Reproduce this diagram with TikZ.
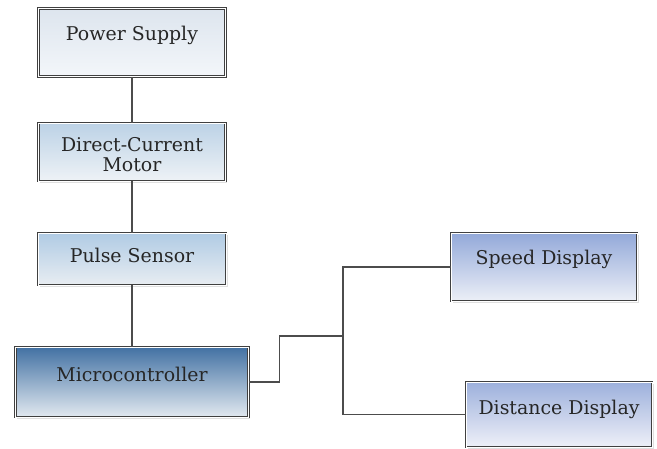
\documentclass[tikz,border=0pt]{standalone}
\usepackage{fontspec}
\setmainfont{DejaVu Serif}
\usetikzlibrary{shadows}
\tikzset{unit/.style={draw=black!75, line width=0.55pt, double=white, double distance=0.7pt,
	drop shadow={opacity=0.25, shadow xshift=1.2pt, shadow yshift=-1.2pt},
	minimum width=#1, inner sep=0pt},
	label/.style={text=black!85, font=\fontsize{14.2}{15.2}\selectfont, align=center, inner sep=0pt},
	wire/.style={draw=black!70, line width=0.9pt}}
\begin{document}
\begin{tikzpicture}[x=0.75pt,y=-0.75pt]
	\useasboundingbox (0,0) rectangle (657,449);
\node[unit=140.25pt, minimum height=51pt, top color={rgb,255:red,221;green,229;blue,238}, bottom color={rgb,255:red,243;green,246;blue,250}] (supply) at (132,42.5) {};
\node[unit=140.25pt, minimum height=43.5pt, top color={rgb,255:red,188;green,210;blue,230}, bottom color={rgb,255:red,238;green,242;blue,246}] (motor) at (132,152) {};
\node[unit=141pt, minimum height=39pt, top color={rgb,255:red,176;green,203;blue,228}, bottom color={rgb,255:red,232;green,237;blue,242}] (sensor) at (132,259) {};
\node[unit=174.75pt, minimum height=52.5pt, top color={rgb,255:red,66;green,113;blue,163}, bottom color={rgb,255:red,226;green,233;blue,240}] (mcu) at (132,382) {};
\node[unit=139.5pt, minimum height=51pt, top color={rgb,255:red,147;green,169;blue,217}, bottom color={rgb,255:red,236;green,239;blue,247}] (speed) at (544,267) {};
\node[unit=139.5pt, minimum height=48.75pt, top color={rgb,255:red,157;green,176;blue,220}, bottom color={rgb,255:red,238;green,240;blue,248}] (dist) at (559,414.5) {};
\node[label] (supplytxt) at (132,35) {Power Supply};
\node[label] (motortxt) at (132,154.5) {Direct-Current\\Motor};
\node[label] (sensortxt) at (132,255) {Pulse Sensor};
\node[label] (mcutxt) at (132,374) {Microcontroller};
\node[label] (speedtxt) at (544,259) {Speed Display};
\node[label] (disttxt) at (559,409) {Distance Display};
\coordinate (hub) at (343,336);
\draw[wire] (supply) -- (motor);
\draw[wire] (motor) -- (sensor);
\draw[wire] (sensor) -- (mcu);
\draw[wire] (mcu.east) -- ++(31,0) |- (hub);
\draw[wire] (speed.west) -| (hub) |- (dist.west);
	\end{tikzpicture}
\end{document}
